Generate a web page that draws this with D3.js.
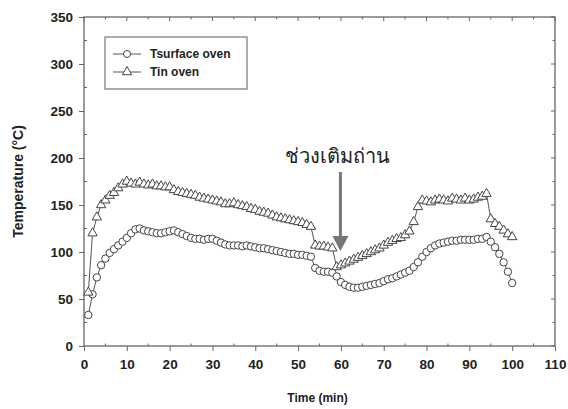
<!DOCTYPE html>
<html><head><meta charset="utf-8">
<script src="https://cdn.jsdelivr.net/npm/d3@7"></script>
<style>body{margin:0;background:#fff}svg{display:block}text{font-family:"Liberation Sans",Arial,sans-serif}</style>
</head><body>
<svg id="c" width="568" height="409"></svg>
<script>
const time = d3.range(1, 101);
const tSurface = [33,55,73,86,93,99,103,107,111,115,120,124,125,123,122,121,120,120,121,122,
123,121,119,117,115,114,114,113,114,114,112,110,108,107,107,107,106,107,106,105,
104,104,103,102,101,100,99,98,98,97,97,96,95,83,80,79,79,78,74,68,
65,63,62,62,63,64,65,66,67,69,71,72,74,76,78,80,84,89,95,100,
104,107,109,110,111,112,112,113,113,113,113,114,114,116,111,105,98,89,79,67];
const tIn = [57,120,137,150,155,160,163,168,172,175,173,172,174,172,171,172,170,170,169,169,
166,164,163,162,161,160,158,157,156,155,154,153,151,151,152,150,149,148,146,145,
143,142,141,139,137,136,135,134,133,132,131,129,127,107,106,106,105,104,84,86,
88,90,92,94,96,98,100,102,104,107,110,112,114,115,118,122,132,148,155,154,
153,155,156,155,154,157,156,155,157,155,156,158,159,162,135,130,127,123,119,116];
const xTicks = d3.range(0, 111, 10);
const yTicks = d3.range(0, 351, 50);
const seriesNames = ["Tsurface oven", "Tin oven"];
const annotation = "ช่วงเติมถ่าน";
const annotationTime = 60;

const svg = d3.select("#c");
const x = d3.scaleLinear([0, 110], [84, 555]);
const y = d3.scaleLinear([0, 350], [346, 17]);
const axisColor = "#666";

// frame
svg.append("rect").attr("x", x(0)).attr("y", y(350)).attr("width", x(110) - x(0)).attr("height", y(0) - y(350))
  .attr("fill", "none").attr("stroke", axisColor).attr("stroke-width", 1.3);

// left axis
const gl = svg.append("g").attr("transform", `translate(${x(0)},0)`)
  .call(d3.axisLeft(y).tickValues(yTicks).tickSize(5).tickPadding(6));
gl.select(".domain").remove();
gl.selectAll("line").attr("stroke", axisColor);
gl.selectAll("text").attr("font-size", 13.5).attr("font-weight", "bold").attr("fill", "#222");
// left minor
svg.append("g").selectAll("line").data(d3.range(25, 350, 50)).join("line")
  .attr("x1", x(0)).attr("x2", x(0) + 3).attr("y1", d => y(d)).attr("y2", d => y(d)).attr("stroke", axisColor);

// bottom axis
const gb = svg.append("g").attr("transform", `translate(0,${y(0)})`)
  .call(d3.axisBottom(x).tickValues(xTicks).tickSize(5).tickPadding(8));
gb.select(".domain").remove();
gb.selectAll("line").attr("stroke", axisColor);
gb.selectAll("text").attr("font-size", 13.5).attr("font-weight", "bold").attr("fill", "#222");
svg.append("g").selectAll("line").data(d3.range(5, 110, 10)).join("line")
  .attr("x1", d => x(d)).attr("x2", d => x(d)).attr("y1", y(0)).attr("y2", y(0) - 2.5).attr("stroke", axisColor);

// top and right ticks (inward)
svg.append("g").selectAll("line").data(xTicks.concat(d3.range(5, 110, 10))).join("line")
  .attr("x1", d => x(d)).attr("x2", d => x(d)).attr("y1", y(350)).attr("y2", d => y(350) + (d % 10 ? 2.5 : 4)).attr("stroke", axisColor);
svg.append("g").selectAll("line").data(yTicks.concat(d3.range(25, 350, 50))).join("line")
  .attr("x1", x(110)).attr("x2", d => x(110) - (d % 50 ? 2.5 : 4)).attr("y1", d => y(d)).attr("y2", d => y(d)).attr("stroke", axisColor);

// axis titles
svg.append("text").attr("x", (x(0) + x(110)) / 2 - 2).attr("y", 402).attr("text-anchor", "middle")
  .attr("font-size", 12).attr("font-weight", "bold").attr("fill", "#222").text("Time (min)");
svg.append("text").attr("transform", `translate(23,${(y(0) + y(350)) / 2}) rotate(-90)`).attr("text-anchor", "middle")
  .attr("font-size", 14).attr("font-weight", "bold").attr("fill", "#222").text("Temperature (°C)");

// series
const line = d3.line().x((d, i) => x(time[i])).y(d => y(d));
const triangle = d3.symbol().type(d3.symbolTriangle).size(38);
function drawSeries(vals, kind) {
  svg.append("path").datum(vals).attr("d", line).attr("fill", "none").attr("stroke", "#555").attr("stroke-width", 1);
  const g = svg.append("g");
  if (kind === "circle") {
    g.selectAll("circle").data(vals).join("circle")
      .attr("cx", (d, i) => x(time[i])).attr("cy", d => y(d)).attr("r", 3.7)
      .attr("fill", "#fff").attr("stroke", "#444").attr("stroke-width", 1);
  } else {
    g.selectAll("path").data(vals).join("path").attr("d", triangle)
      .attr("transform", (d, i) => `translate(${x(time[i])},${y(d)})`)
      .attr("fill", "#fff").attr("stroke", "#444").attr("stroke-width", 1);
  }
}
drawSeries(tSurface, "circle");
drawSeries(tIn, "triangle");

// legend
const lg = svg.append("g");
lg.append("rect").attr("x", 105).attr("y", 37).attr("width", 142).attr("height", 52)
  .attr("fill", "#fff").attr("stroke", "#777").attr("stroke-width", 1.2);
seriesNames.forEach((name, i) => {
  const yy = 54 + i * 18;
  lg.append("line").attr("x1", 113).attr("x2", 141).attr("y1", yy).attr("y2", yy).attr("stroke", "#555");
  if (i === 0) lg.append("circle").attr("cx", 127).attr("cy", yy).attr("r", 3.5).attr("fill", "#fff").attr("stroke", "#444");
  else lg.append("path").attr("d", triangle).attr("transform", `translate(127,${yy})`).attr("fill", "#fff").attr("stroke", "#444");
  lg.append("text").attr("x", 150).attr("y", yy + 4).attr("font-size", 12).attr("font-weight", "bold").attr("fill", "#222").text(name);
});

// annotation
const ax = x(annotationTime) - 0.5;
svg.append("text").attr("x", 337).attr("y", 163).attr("text-anchor", "middle")
  .attr("font-family", "'Noto Sans Thai','Loma','Garuda','Noto Sans',sans-serif")
  .attr("font-size", 20).attr("font-weight", 300).attr("fill", "#222").text(annotation);
svg.append("line").attr("x1", ax).attr("x2", ax).attr("y1", 172).attr("y2", 237).attr("stroke", "#777").attr("stroke-width", 3);
svg.append("path").attr("d", `M${ax - 8},236 L${ax + 8},236 L${ax},251 Z`).attr("fill", "#777");
</script>
</body></html>
